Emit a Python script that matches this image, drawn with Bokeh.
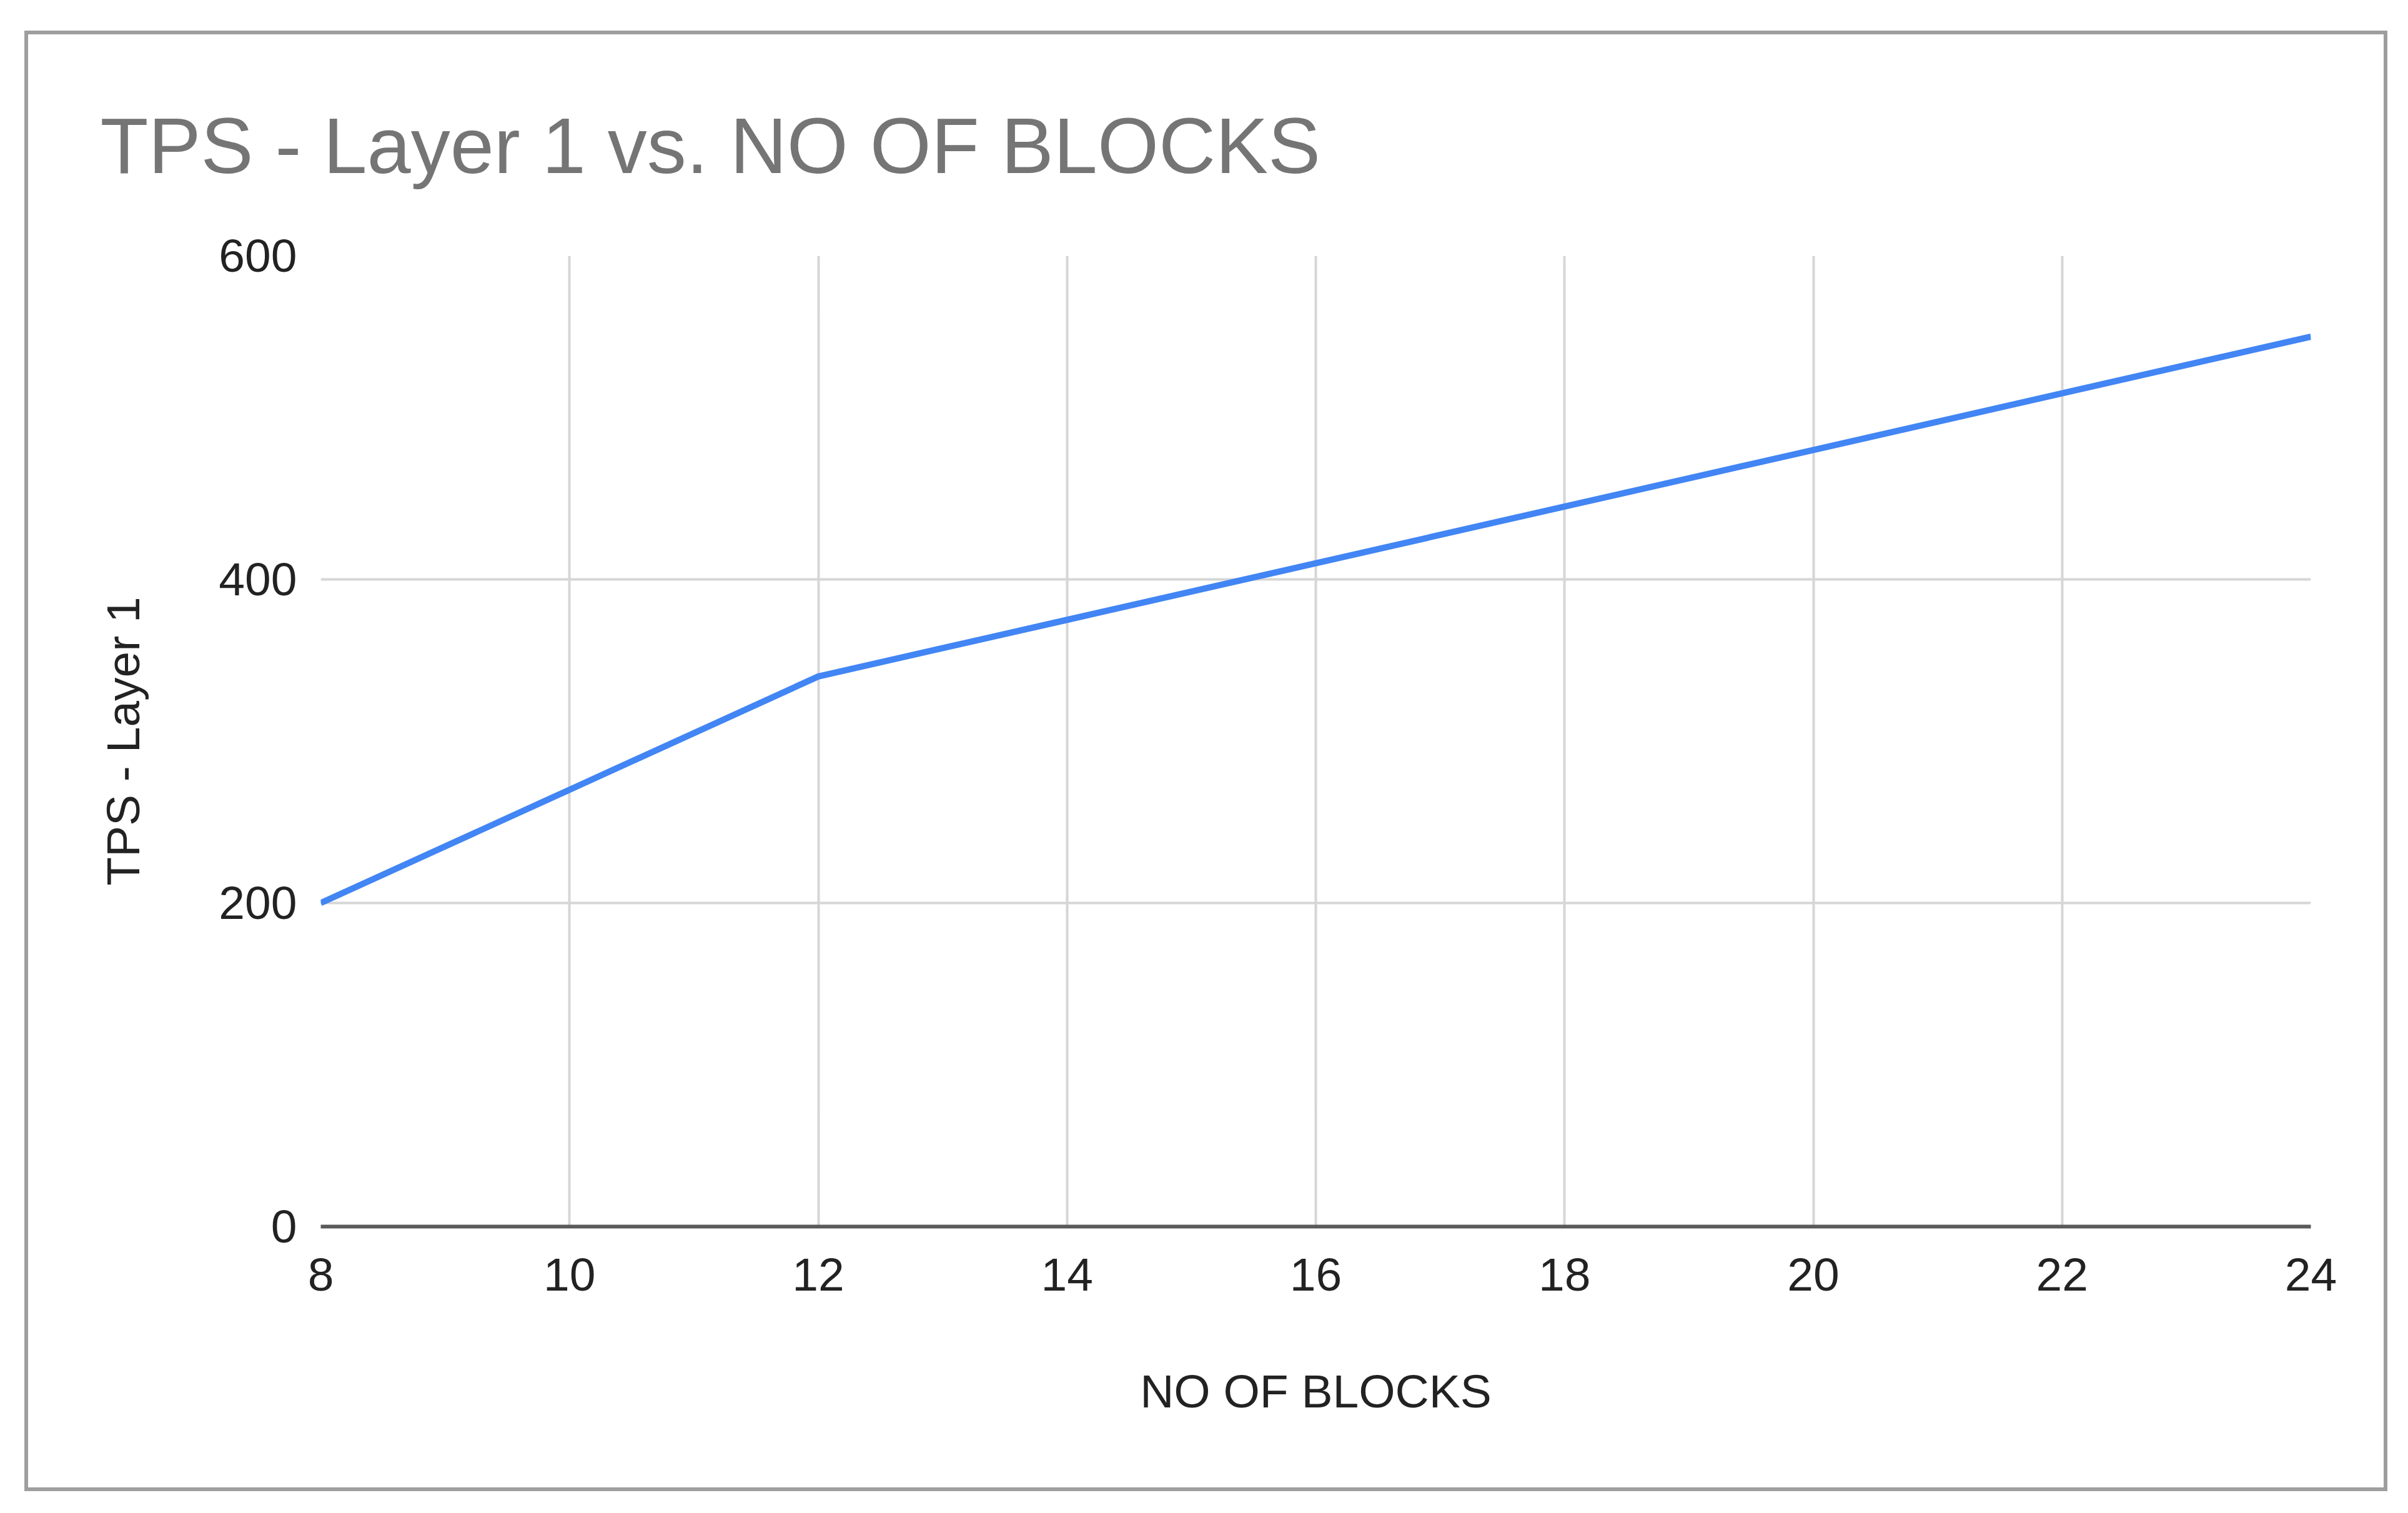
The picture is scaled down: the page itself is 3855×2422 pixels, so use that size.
from bokeh.plotting import figure
from bokeh.models import Range1d, FixedTicker, GlobalInlineStyleSheet
from bokeh.embed import file_html
from bokeh.resources import INLINE

# ---- data ----
blocks = [8, 10, 12, 14, 16, 18, 20, 22, 24]
tps_layer1 = [200, 270, 340, 375, 410, 445, 480, 515, 550]
x_ticks = [8, 10, 12, 14, 16, 18, 20, 22, 24]
y_ticks = [0, 200, 400, 600]

title_text = "TPS - Layer 1 vs. NO OF BLOCKS"
x_label = "NO OF BLOCKS"
y_label = "TPS - Layer 1"

FONT = "Liberation Sans"

W, H = 3850, 2416
p = figure(width=W, height=H, output_backend="svg", toolbar_location=None,
           x_range=Range1d(8, 24), y_range=Range1d(0, 600),
           min_border_left=513, min_border_right=151,
           min_border_top=409, min_border_bottom=453,
           background_fill_color="white", border_fill_color="white")
p.outline_line_color = None

# grey border of the chart card, drawn as a page-level CSS overlay
card_css = """
body::after {
  content: "";
  position: absolute;
  left: 39px; top: 49px;
  width: 3783px; height: 2338px;
  box-sizing: border-box;
  border: 6px solid #9e9e9e;
  pointer-events: none;
  z-index: 100;
}
"""
p.stylesheets = [GlobalInlineStyleSheet(css=card_css)]

# title
p.title.text = title_text
p.title.text_font = FONT
p.title.text_font_size = "126px"
p.title.text_font_style = "normal"
p.title.text_color = "#757575"
p.title.align = "left"
p.title.offset = -353
p.title.standoff = 211

# grids
p.xgrid.ticker = FixedTicker(ticks=x_ticks)
p.ygrid.ticker = FixedTicker(ticks=y_ticks)
for g in (p.xgrid, p.ygrid):
    g.grid_line_color = "#d6d6d6"
    g.grid_line_width = 4

# axes
p.xaxis.ticker = FixedTicker(ticks=x_ticks)
p.yaxis.ticker = FixedTicker(ticks=y_ticks)
for ax in (p.xaxis, p.yaxis):
    ax.major_tick_line_color = None
    ax.minor_tick_line_color = None
    ax.major_label_text_font = FONT
    ax.major_label_text_font_size = "75px"
    ax.major_label_text_color = "#222222"
    ax.axis_label_text_font = FONT
    ax.axis_label_text_font_size = "75px"
    ax.axis_label_text_font_style = "normal"
    ax.axis_label_text_color = "#222222"
p.xaxis.axis_label = x_label
p.yaxis.axis_label = y_label
p.xaxis.axis_line_color = "#5a5a5a"
p.xaxis.axis_line_width = 6
p.yaxis.axis_line_color = None
p.xaxis.major_label_standoff = 45
p.yaxis.major_label_standoff = 32
p.xaxis.axis_label_standoff = 116
p.yaxis.axis_label_standoff = 108

# series
p.line(blocks, tps_layer1, line_color="#4285F4", line_width=10)

open("out.html", "w").write(file_html(p, INLINE))
